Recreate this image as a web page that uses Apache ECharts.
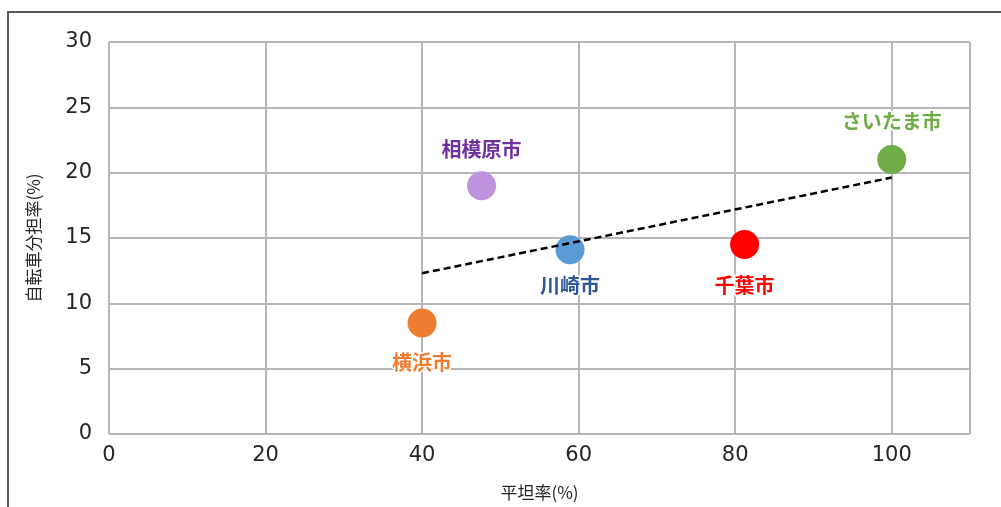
<!DOCTYPE html>
<html>
<head>
<meta charset="utf-8">
<script src="https://cdn.jsdelivr.net/npm/echarts@6/dist/echarts.min.js"></script>
<style>
  html, body { margin: 0; padding: 0; background: #fff; }
  #chart { width: 1001px; height: 507px; }
</style>
</head>
<body>
<div id="chart"></div>
<script>
// City names, flatness ratio (%) and bicycle modal share (%)
const cities = ['横浜市', '相模原市', '川崎市', '千葉市', 'さいたま市'];
const flatRatio = [40.0, 47.6, 58.9, 81.2, 100.0];
const bikeShare = [8.5, 19.0, 14.1, 14.5, 21.0];

// Per-city marker colour, label colour, label side and gap
const pointColors = ['#ED7D31', '#BF93DE', '#5B9BD5', '#FF0000', '#70AD47'];
const labelColors = ['#ED7D31', '#7030A0', '#2F5597', '#FF0000', '#70AD47'];
const labelSides = ['bottom', 'top', 'bottom', 'bottom', 'top'];
const labelGaps = [15, 12, 11, 16, 14];

// Least-squares linear trend across the cities, drawn over the data's x range
function trend(xs, ys) {
  const n = xs.length;
  const mx = xs.reduce((a, b) => a + b, 0) / n;
  const my = ys.reduce((a, b) => a + b, 0) / n;
  let sxy = 0, sxx = 0;
  for (let i = 0; i < n; i++) {
    sxy += (xs[i] - mx) * (ys[i] - my);
    sxx += (xs[i] - mx) * (xs[i] - mx);
  }
  const slope = sxy / sxx;
  const x0 = Math.min(...xs), x1 = Math.max(...xs);
  return [[x0, my + slope * (x0 - mx)], [x1, my + slope * (x1 - mx)]];
}

const tickFont = 'DejaVu Sans';
const cjkFont = '"Noto Sans CJK JP"';
const gridColor = '#b7b7b7';

const chart = echarts.init(document.getElementById('chart'), null, { renderer: 'canvas' });

const scatterSeries = cities.map((name, i) => ({
  type: 'scatter',
  name: name,
  data: [[flatRatio[i], bikeShare[i]]],
  symbolSize: 29,
  itemStyle: { color: pointColors[i], opacity: 1 },
  z: 3,
  label: {
    show: true,
    formatter: name,
    position: labelSides[i],
    distance: labelGaps[i],
    color: labelColors[i],
    fontFamily: cjkFont,
    fontSize: 20,
    fontWeight: 'bold',
    textBorderColor: '#ffffff',
    textBorderWidth: 3
  }
}));

chart.setOption({
  animation: false,
  backgroundColor: '#ffffff',
  graphic: [{
    type: 'rect',
    shape: { x: 8, y: 12, width: 1100, height: 600 },
    style: { fill: 'none', stroke: '#595959', lineWidth: 2 },
    silent: true,
    z: 0
  }],
  grid: {
    left: 109, right: 31, top: 42, bottom: 73,
    containLabel: false,
    outerBoundsMode: 'none'
  },
  xAxis: {
    type: 'value',
    min: 0,
    max: 110,
    interval: 20,
    name: '平坦率(%)',
    nameLocation: 'middle',
    nameGap: 50,
    nameTextStyle: { fontFamily: cjkFont, fontSize: 17, color: '#262626' },
    axisLine: { show: false },
    axisTick: { show: false },
    axisLabel: {
      fontFamily: tickFont, fontSize: 21, color: '#262626', margin: 11,
      showMaxLabel: false,
      formatter: v => (v > 100 ? '' : String(v))
    },
    splitLine: { show: true, lineStyle: { color: gridColor, width: 2 } }
  },
  yAxis: {
    type: 'value',
    min: 0,
    max: 30,
    interval: 5,
    name: '自転車分担率(%)',
    nameLocation: 'middle',
    nameGap: 67,
    nameRotate: 90,
    nameTextStyle: { fontFamily: cjkFont, fontSize: 17, color: '#262626' },
    axisLine: { show: false },
    axisTick: { show: false },
    axisLabel: { fontFamily: tickFont, fontSize: 21, color: '#262626', margin: 17 },
    splitLine: { show: true, lineStyle: { color: gridColor, width: 2 } }
  },
  series: [
    {
      type: 'line',
      name: 'trend',
      data: trend(flatRatio, bikeShare),
      symbol: 'none',
      lineStyle: { color: '#000000', width: 2.5, type: [7, 4] },
      z: 4,
      silent: true
    },
    ...scatterSeries
  ]
});
</script>
</body>
</html>
